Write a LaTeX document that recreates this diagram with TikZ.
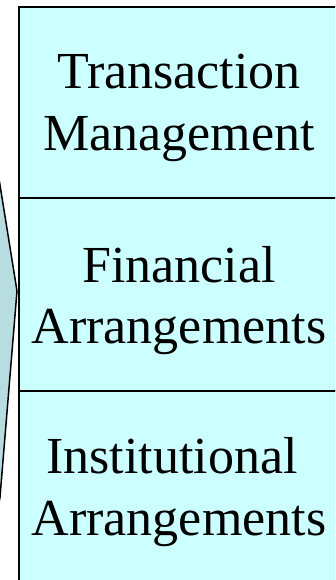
\documentclass[tikz,border=0pt]{standalone}
\usepackage{fontspec}
\setmainfont{Liberation Serif}
\definecolor{boxfill}{HTML}{CCFFFF}
\definecolor{arrowfill}{HTML}{B7DDE0}
\begin{document}
\begin{tikzpicture}[x=1pt,y=-1pt,
  panel/.style={draw=black,line width=2pt,fill=boxfill},
  lbl/.style={anchor=base,inner sep=0pt,font=\fontsize{52}{61}\selectfont},
  chevron/.style={draw=black,line width=1.5pt,fill=arrowfill,line join=miter}]
\useasboundingbox (0,0) rectangle (335,580);
\begin{scope}
\clip (0,0) rectangle (335,580);
\draw[chevron] (-10,123) -- (0,185) coordinate (au) -- (17,291) coordinate (tip) -- (0,497) coordinate (al) -- (-10,560);
\draw[panel] (19,7) rectangle (341,198);
\draw[panel] (19,198) rectangle (341,391);
\draw[panel] (19,391) rectangle (341,586);
\node[lbl] (t1) at (179,89) {Transaction};
\node[lbl] (t2) at (179,150) {Management};
\node[lbl] (f1) at (179,282) {Financial};
\node[lbl] (f2) at (179,343) {Arrangements};
\node[lbl] (i1) at (172,473) {Institutional};
\node[lbl] (i2) at (179,535) {Arrangements};
\end{scope}
\end{tikzpicture}
\end{document}
